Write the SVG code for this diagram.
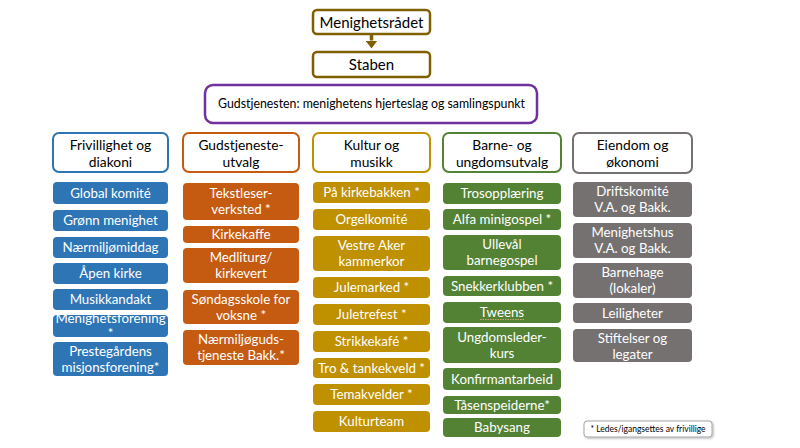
<svg xmlns="http://www.w3.org/2000/svg" width="800" height="448" viewBox="0 0 800 448">
<style>
text{font-family:Lato,"Liberation Sans",Arial,sans-serif;text-anchor:middle}
.top{fill:#fff;stroke:#7F6000;stroke-width:2.5}
.toptx{font-size:15px;fill:#000}
.purp{fill:#fff;stroke:#7030A0;stroke-width:2.5}
.hd{fill:#fff;stroke-width:2}
.hdtx{font-size:13.8px;fill:#000}
.it{font-size:13.3px;fill:#fff}
.b{fill:#2E75B6}.o{fill:#C55A11}.g{fill:#BF9000}.gr{fill:#548235}.gy{fill:#767171}
.leg{fill:#fff;stroke:#A6A6A6;stroke-width:1}
</style>
<defs>
<marker id="ah" viewBox="0 0 8 12" refX="0" refY="6" markerWidth="8" markerHeight="12" orient="auto" markerUnits="userSpaceOnUse"><path d="M0,0 L8,6 L0,12 Z" fill="#7F6000"/></marker>
<filter id="sh" x="-10%" y="-30%" width="120%" height="160%"><feDropShadow dx="1" dy="1" stdDeviation="0.8" flood-color="#000" flood-opacity="0.3"/></filter>
</defs>
<rect width="800" height="448" fill="#fff"/>
<g id="connectors">
<line x1="371.5" y1="35" x2="371.5" y2="40.5" stroke="#7F6000" stroke-width="3.5" marker-end="url(#ah)"/>
</g>
<g id="menighetsradet"><rect class="top" x="313" y="10" width="117" height="24" rx="4"/><text class="toptx" x="371.5" y="27.5">Menighetsrådet</text></g>
<g id="staben"><rect class="top" x="313" y="52" width="117" height="25" rx="4"/><text class="toptx" x="371.5" y="69.5">Staben</text></g>
<g id="gudstjenesten"><rect class="purp" x="205" y="85" width="332" height="38" rx="8"/><text x="371.5" y="108.3" textLength="307" lengthAdjust="spacingAndGlyphs" style="font-size:12.5px;fill:#000">Gudstjenesten: menighetens hjerteslag og samlingspunkt</text></g>

<g id="h-frivillighet"><rect class="hd" stroke="#2E75B6" x="53" y="133" width="115" height="39" rx="6"/><text class="hdtx" x="110.5" y="149.5">Frivillighet og</text><text class="hdtx" x="110.5" y="166.5">diakoni</text></g>
<g id="b-global"><rect class="b" x="53" y="182" width="115" height="22" rx="4"/><text class="it" x="110.5" y="197.5">Global komité</text></g>
<g id="b-gronn"><rect class="b" x="53" y="210" width="115" height="21" rx="4"/><text class="it" x="110.5" y="225">Grønn menighet</text></g>
<g id="b-naermiljo"><rect class="b" x="53" y="237" width="115" height="21" rx="4"/><text class="it" x="110.5" y="252">Nærmiljømiddag</text></g>
<g id="b-apen"><rect class="b" x="53" y="263" width="115" height="21" rx="4"/><text class="it" x="110.5" y="278">Åpen kirke</text></g>
<g id="b-musikk"><rect class="b" x="53" y="289" width="115" height="21" rx="4"/><text class="it" x="110.5" y="304">Musikkandakt</text></g>
<g id="b-menighetsforening"><rect class="b" x="53" y="315" width="115" height="22" rx="4"/><text class="it" x="110.5" y="322.5">Menighetsforening</text><text class="it" x="110.5" y="337.5">*</text></g>
<g id="b-prestegardens"><rect class="b" x="53" y="342" width="115" height="34" rx="4"/><text class="it" x="110.5" y="356">Prestegårdens</text><text class="it" x="110.5" y="372">misjonsforening*</text></g>

<g id="h-gudstjeneste"><rect class="hd" stroke="#C55A11" x="183" y="133" width="116" height="39" rx="6"/><text class="hdtx" x="241" y="149.5">Gudstjeneste-</text><text class="hdtx" x="241" y="166.5">utvalg</text></g>
<g id="o-tekstleser"><rect class="o" x="183" y="183" width="116" height="37" rx="4"/><text class="it" x="241" y="198">Tekstleser-</text><text class="it" x="241" y="214">verksted *</text></g>
<g id="o-kirkekaffe"><rect class="o" x="183" y="226" width="116" height="17" rx="4"/><text class="it" x="241" y="239">Kirkekaffe</text></g>
<g id="o-medliturg"><rect class="o" x="183" y="248" width="116" height="35" rx="4"/><text class="it" x="241" y="262">Medliturg/</text><text class="it" x="241" y="278">kirkevert</text></g>
<g id="o-sondagsskole"><rect class="o" x="183" y="290" width="116" height="34" rx="4"/><text class="it" x="241" y="303.5">Søndagsskole for</text><text class="it" x="241" y="319.5">voksne *</text></g>
<g id="o-naermiljoguds"><rect class="o" x="183" y="330" width="116" height="35" rx="4"/><text class="it" x="241" y="344">Nærmiljøguds-</text><text class="it" x="241" y="360">tjeneste Bakk.*</text></g>

<g id="h-kultur"><rect class="hd" stroke="#BF9000" x="313" y="133" width="117" height="39" rx="6"/><text class="hdtx" x="371.5" y="149.5">Kultur og</text><text class="hdtx" x="371.5" y="166.5">musikk</text></g>
<g id="g-kirkebakken"><rect class="g" x="313" y="182" width="117" height="21" rx="4"/><text class="it" x="371.5" y="197">På kirkebakken *</text></g>
<g id="g-orgelkomite"><rect class="g" x="313" y="209" width="117" height="21" rx="4"/><text class="it" x="371.5" y="224">Orgelkomité</text></g>
<g id="g-vestreaker"><rect class="g" x="313" y="236" width="117" height="35" rx="4"/><text class="it" x="371.5" y="250">Vestre Aker</text><text class="it" x="371.5" y="266">kammerkor</text></g>
<g id="g-julemarked"><rect class="g" x="313" y="277" width="117" height="21" rx="4"/><text class="it" x="371.5" y="292">Julemarked *</text></g>
<g id="g-juletrefest"><rect class="g" x="313" y="304" width="117" height="21" rx="4"/><text class="it" x="371.5" y="319">Juletrefest *</text></g>
<g id="g-strikkekafe"><rect class="g" x="313" y="331" width="117" height="21" rx="4"/><text class="it" x="371.5" y="346">Strikkekafé *</text></g>
<g id="g-tro"><rect class="g" x="313" y="358" width="117" height="20" rx="4"/><text class="it" x="371.5" y="372.5">Tro &amp; tankekveld *</text></g>
<g id="g-temakvelder"><rect class="g" x="313" y="384" width="117" height="21" rx="4"/><text class="it" x="371.5" y="399">Temakvelder *</text></g>
<g id="g-kulturteam"><rect class="g" x="313" y="411" width="117" height="21" rx="4"/><text class="it" x="371.5" y="426">Kulturteam</text></g>

<g id="h-barne"><rect class="hd" stroke="#548235" x="443" y="133" width="118" height="39" rx="6"/><text class="hdtx" x="502" y="149.5">Barne- og</text><text class="hdtx" x="502" y="166.5">ungdomsutvalg</text></g>
<g id="gr-trosopplaering"><rect class="gr" x="443" y="183" width="118" height="21" rx="4"/><text class="it" x="502" y="198">Trosopplæring</text></g>
<g id="gr-alfa"><rect class="gr" x="443" y="209" width="118" height="21" rx="4"/><text class="it" x="502" y="224">Alfa minigospel *</text></g>
<g id="gr-ullevaal"><rect class="gr" x="443" y="235" width="118" height="35" rx="4"/><text class="it" x="502" y="249">Ullevål</text><text class="it" x="502" y="265">barnegospel</text></g>
<g id="gr-snekker"><rect class="gr" x="443" y="276" width="118" height="20" rx="4"/><text class="it" x="502" y="290.5">Snekkerklubben *</text></g>
<g id="gr-tweens"><rect class="gr" x="443" y="302" width="118" height="21" rx="4"/><text class="it" x="502" y="316.5">Tweens</text><line x1="480" y1="319.5" x2="524" y2="319.5" stroke="#C9A66B" stroke-width="1" stroke-dasharray="1.5,1"/></g>
<g id="gr-ungdomsleder"><rect class="gr" x="443" y="327" width="118" height="36" rx="4"/><text class="it" x="502" y="341.5">Ungdomsleder-</text><text class="it" x="502" y="357.5">kurs</text></g>
<g id="gr-konfirmant"><rect class="gr" x="443" y="368" width="118" height="22" rx="4"/><text class="it" x="502" y="383.5">Konfirmantarbeid</text></g>
<g id="gr-tasen"><rect class="gr" x="443" y="396" width="118" height="18" rx="4"/><text class="it" x="502" y="409.5">Tåsenspeiderne*</text></g>
<g id="gr-babysang"><rect class="gr" x="443" y="418" width="118" height="19" rx="4"/><text class="it" x="502" y="432">Babysang</text></g>

<g id="h-eiendom"><rect class="hd" stroke="#767171" x="573" y="133" width="119" height="40" rx="6"/><text class="hdtx" x="632.5" y="149.5">Eiendom og</text><text class="hdtx" x="632.5" y="166.5">økonomi</text></g>
<g id="gy-drift"><rect class="gy" x="573" y="182" width="119" height="35" rx="4"/><text class="it" x="632.5" y="196">Driftskomité</text><text class="it" x="632.5" y="212">V.A. og Bakk.</text></g>
<g id="gy-menighetshus"><rect class="gy" x="573" y="223" width="119" height="35" rx="4"/><text class="it" x="632.5" y="237">Menighetshus</text><text class="it" x="632.5" y="253">V.A. og Bakk.</text></g>
<g id="gy-barnehage"><rect class="gy" x="573" y="263" width="119" height="35" rx="4"/><text class="it" x="632.5" y="277">Barnehage</text><text class="it" x="632.5" y="293">(lokaler)</text></g>
<g id="gy-leiligheter"><rect class="gy" x="573" y="303" width="119" height="20" rx="4"/><text class="it" x="632.5" y="317.5">Leiligheter</text></g>
<g id="gy-stiftelser"><rect class="gy" x="573" y="329" width="119" height="33" rx="4"/><text class="it" x="632.5" y="342.5">Stiftelser og</text><text class="it" x="632.5" y="358.5">legater</text></g>

<g id="legend"><rect class="leg" filter="url(#sh)" x="584" y="421" width="128" height="16" rx="3"/><text x="648" y="432.3" style="font-size:8.5px;fill:#000">* Ledes/igangsettes av frivillige</text></g>
</svg>
